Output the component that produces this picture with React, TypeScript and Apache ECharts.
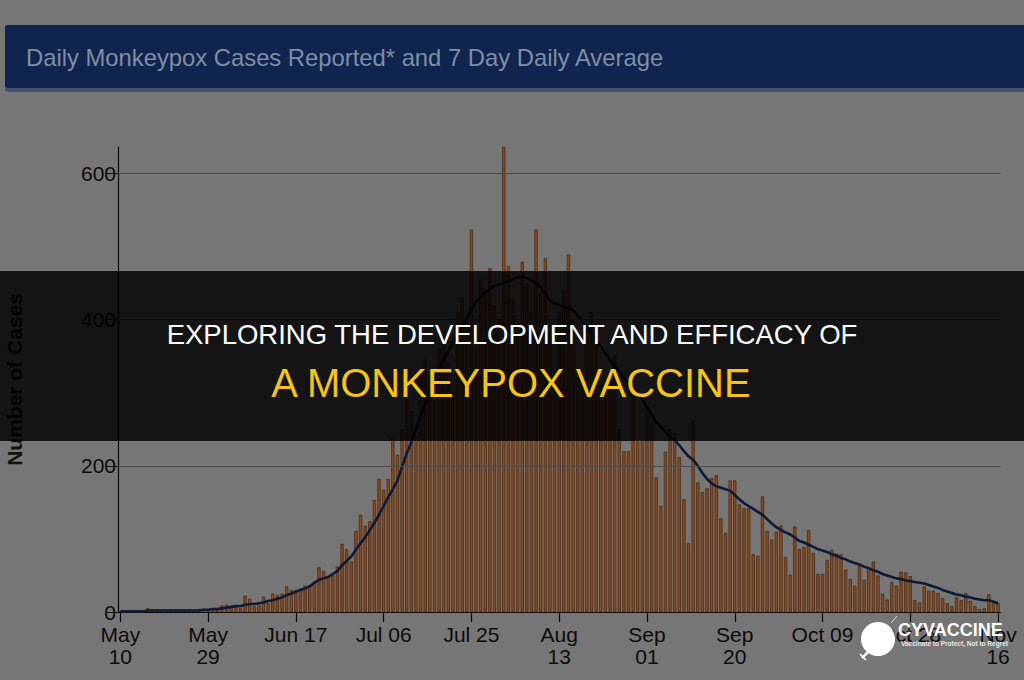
import React, { useEffect, useRef } from 'react';
import * as echarts from 'echarts';

const startDate = '2022-05-10';

const dailyCases = [
  1, 0, 1, 0, 2, 1, 5, 1, 1, 2, 1, 2, 2, 3, 2, 3, 2, 3, 4,
  3, 4, 5, 9, 10, 6, 7, 5, 22, 18, 8, 9, 21, 12, 25, 23, 25,
  35, 30, 29, 32, 36, 37, 41, 61, 56, 48, 50, 62, 93, 86, 69, 111, 133, 118, 124, 153, 182, 167, 182,
  238, 215, 250, 300, 275, 240, 330, 345, 320, 290, 360, 380, 340, 300, 410, 430, 395, 523, 360, 455,
  440, 470, 420, 400, 637, 473, 430, 380, 479, 450, 410, 523, 440, 484, 380, 330, 410, 440, 489, 400,
  320, 330, 390, 410, 380, 310, 300, 330, 350, 250, 220, 220, 300, 233, 233, 280, 260,
  184, 145, 219, 250, 245, 212, 154, 94, 262, 177, 164, 169, 183, 187, 128, 108, 180, 180, 147, 142,
  142, 79, 77, 158, 111, 99, 110, 118, 75, 51, 117, 86, 89, 112, 81, 52, 52, 71, 85, 80,
  79, 58, 45, 36, 63, 44, 60, 69, 50, 25, 17, 41, 36, 55, 54, 49, 16, 13, 35, 29,
  29, 26, 19, 12, 8, 20, 16, 26, 15, 8, 4, 5, 24, 12, 12,
];

const sevenDayAvg = [
  1, 1, 1, 1, 1, 1, 2, 2, 2, 2, 2, 2, 2, 2, 2, 2, 2,
  2, 3, 3, 4, 4, 5, 6, 7, 8, 8, 10, 11, 11, 12, 13, 15, 16, 18, 20, 23,
  25, 28, 30, 32, 35, 40, 44, 46, 48, 52, 56, 64, 70, 76, 85, 94, 102, 112, 122, 133,
  145, 157, 168, 180,
  199, 217, 232, 250, 268, 285, 300, 317, 332, 345, 356, 368, 380, 390, 402, 415, 424, 431, 437, 442,
  446, 448, 450, 452, 455, 458, 459, 457, 454, 450, 445, 435, 426, 422, 420, 417, 415, 413, 405, 398,
  390, 380, 372, 363, 354, 345, 337, 328, 320, 313, 305, 298, 290, 280, 270, 260, 253, 246, 240, 235,
  228, 220, 213, 208, 200, 190, 182, 176, 172, 170, 168, 166, 160, 154, 149, 145, 141, 137, 133, 127,
  121, 116, 112, 109, 106, 102, 97, 95, 92, 89, 86, 84, 82, 79, 77, 74, 72, 69, 67, 65,
  62, 60, 57, 55, 52, 50, 48, 46, 45, 43, 42, 41, 40, 39, 37, 35, 33, 30, 28, 26,
  24, 23, 21, 20, 18, 17, 16, 16, 14, 12,
];

const tickLabels = ['May\n10', 'May\n29', 'Jun 17', 'Jul 06', 'Jul 25', 'Aug\n13', 'Sep\n01', 'Sep\n20', 'Oct 09', 'Oct 28', 'Nov\n16'];
const tickStep = 19;
const yTicks = [0, 200, 400, 600];
const yMax = 636;

const headerTitle = 'Daily Monkeypox Cases Reported* and 7 Day Daily Average';
const yAxisTitle = 'Number of Cases';
const headline1 = 'EXPLORING THE DEVELOPMENT AND EFFICACY OF';
const headline2 = 'A MONKEYPOX VACCINE';
const brandName = 'CYVACCINE';
const brandTagline = 'Vaccinate to Protect, Not to Regret';

function buildCategories(n: number): string[] {
  const out: string[] = [];
  const d0 = new Date(startDate + 'T00:00:00Z');
  for (let i = 0; i < n; i++) {
    const d = new Date(d0.getTime() + i * 86400000);
    out.push(d.toISOString().slice(0, 10));
  }
  return out;
}

export default function App() {
  const ref = useRef<HTMLDivElement>(null);

  useEffect(() => {
    if (!ref.current) return;
    const chart = echarts.init(ref.current, null, { renderer: 'svg' });
    const categories = buildCategories(dailyCases.length);
    const font = '"Liberation Sans", Arial, Helvetica, sans-serif';

    chart.setOption({
      animation: false,
      backgroundColor: '#767676',
      textStyle: { fontFamily: font },
      grid: { left: 118, top: 147, right: 23.6, bottom: 68, containLabel: false, outerBoundsMode: 'none' },
      xAxis: {
        type: 'category',
        data: categories,
        boundaryGap: true,
        axisLine: { show: true, lineStyle: { color: '#0a0a0a', width: 1 } },
        axisTick: { show: true, interval: tickStep - 1, alignWithLabel: true, length: 10, lineStyle: { color: '#0a0a0a', width: 1.2 } },
        axisLabel: {
          interval: tickStep - 1,
          margin: 11,
          color: '#0c0c0c',
          fontSize: 21,
          lineHeight: 22,
          fontFamily: font,
          hideOverlap: false,
          formatter: (_v: string, idx: number) => (idx % tickStep === 0 ? tickLabels[idx / tickStep] : ''),
        },
        splitLine: { show: false },
      },
      yAxis: {
        type: 'value',
        min: 0,
        max: yMax,
        name: yAxisTitle,
        nameLocation: 'middle',
        nameRotate: 90,
        nameGap: 93,
        nameTextStyle: { color: '#111', fontSize: 21, fontWeight: 'bold', fontFamily: font },
        axisLine: { show: true, lineStyle: { color: '#0a0a0a', width: 1.2 } },
        axisTick: { show: true, length: 11, customValues: yTicks, lineStyle: { color: '#111', width: 1 } },
        axisLabel: { customValues: yTicks, margin: 2, color: '#0c0c0c', fontSize: 21, fontFamily: font },
        splitLine: { show: false },
      },
      series: [
        {
          type: 'bar',
          data: dailyCases,
          barCategoryGap: '32%',
          itemStyle: { color: '#8a4a1f', borderColor: '#3a1c08', borderWidth: 0.6 },
          markLine: {
            silent: true,
            symbol: 'none',
            label: { show: false },
            lineStyle: { color: '#4c4c4c', width: 1.2, type: 'solid' },
            data: yTicks.filter((v) => v > 0).map((v) => ({ yAxis: v })),
          },
          z: 2,
        },
        {
          type: 'line',
          data: sevenDayAvg,
          showSymbol: false,
          symbol: 'none',
          lineStyle: { color: '#0e1a36', width: 2.6 },
          z: 3,
        },
      ],
      graphic: [
        {
          type: 'rect',
          z: 100,
          shape: { x: 5, y: 25, width: 1030, height: 67, r: 3 },
          style: { fill: '#44546f' },
        },
        {
          type: 'rect',
          z: 101,
          shape: { x: 5, y: 25, width: 1030, height: 63, r: 3 },
          style: { fill: '#0f2550' },
        },
        {
          type: 'text',
          z: 102,
          x: 26,
          y: 57,
          style: { text: headerTitle, fill: '#808da4', fontSize: 23.8, fontFamily: font, verticalAlign: 'middle', align: 'left' },
        },
        {
          type: 'rect',
          z: 110,
          shape: { x: 0, y: 271, width: 1024, height: 170 },
          style: { fill: 'rgba(0,0,0,0.83)' },
        },
        {
          type: 'text',
          z: 111,
          x: 512,
          y: 334,
          style: { text: headline1, fill: '#ffffff', fontSize: 27.5, fontFamily: font, align: 'center', verticalAlign: 'middle' },
        },
        {
          type: 'text',
          z: 111,
          x: 511,
          y: 383,
          style: { text: headline2, fill: '#f5c31c', fontSize: 40, fontFamily: font, align: 'center', verticalAlign: 'middle' },
        },
        {
          type: 'line',
          z: 120,
          shape: { x1: 891, y1: 623, x2: 897, y2: 616 },
          style: { stroke: '#d8d8d8', lineWidth: 1 },
        },
        {
          type: 'circle',
          z: 121,
          shape: { cx: 878, cy: 639, r: 17 },
          style: { fill: '#ffffff' },
        },
        {
          type: 'polyline',
          z: 121,
          shape: { points: [[868, 652], [862, 658]] },
          style: { stroke: '#ffffff', lineWidth: 2.5 },
        },
        {
          type: 'line',
          z: 121,
          shape: { x1: 860, y1: 654, x2: 866, y2: 660 },
          style: { stroke: '#ffffff', lineWidth: 1.5 },
        },
        {
          type: 'text',
          z: 122,
          x: 898,
          y: 630,
          style: { text: brandName, fill: '#ffffff', fontSize: 18, fontWeight: 'bold', fontFamily: font, align: 'left', verticalAlign: 'middle' },
        },
        {
          type: 'text',
          z: 122,
          x: 901,
          y: 643,
          style: { text: brandTagline, fill: '#e8e8e8', fontSize: 6.5, fontWeight: 'bold', fontFamily: font, align: 'left', verticalAlign: 'middle' },
        },
      ],
    });

    return () => {
      chart.dispose();
    };
  }, []);

  return <div ref={ref} style={{ position: 'fixed', left: 0, top: 0, width: 1024, height: 680 }} />;
}
